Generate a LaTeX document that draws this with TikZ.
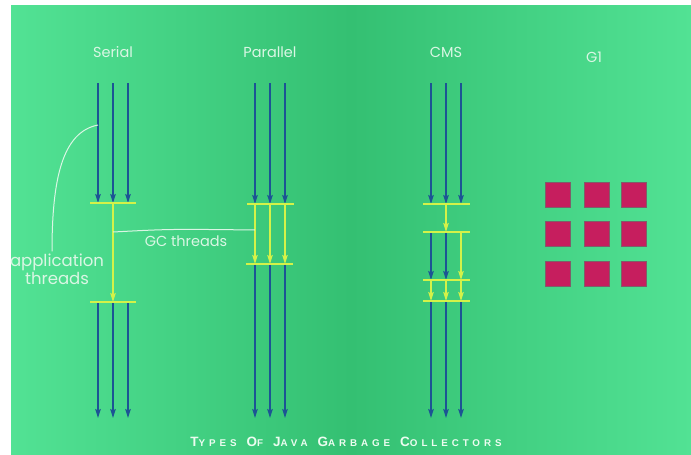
\documentclass[tikz,border=0pt]{standalone}
\usepackage{fontspec}
\setmainfont{Poppins}
\newfontfamily\titlefont[LetterSpace=40]{Liberation Sans}
\usetikzlibrary{arrows.meta}
\definecolor{gl}{RGB}{82,226,148}
\definecolor{gd}{RGB}{52,192,114}
\definecolor{threadblue}{RGB}{28,84,148}
\definecolor{gcyellow}{RGB}{212,242,72}
\definecolor{labelc}{RGB}{218,246,228}
\definecolor{captionc}{RGB}{236,252,240}
\definecolor{regionred}{RGB}{198,30,94}
\definecolor{regionedge}{RGB}{125,95,105}
\newcommand{\fsc}[2]{{\fontsize{13.5}{13.5}\selectfont #1}{\fontsize{9.8}{9.8}\selectfont #2}}
\begin{document}
\begin{tikzpicture}[x=1pt,y=-1pt,
  app/.style={draw=threadblue, line width=1.4pt, -{Stealth[length=9pt,width=5.5pt,inset=1.5pt]}},
  gcarrow/.style={draw=gcyellow, line width=1.2pt, -{Stealth[length=9pt,width=5.5pt,inset=1.5pt]}},
  bar/.style={draw=gcyellow, line width=1.2pt},
  lbl/.style={text=labelc, font=\fontsize{14.5}{18}\selectfont, inner sep=0pt},
  pointer/.style={draw=labelc, line width=1pt},
  region/.style={fill=regionred, draw=regionedge, line width=0.8pt, minimum size=25pt, inner sep=0pt}
]
\useasboundingbox (0,0) rectangle (691,455);
\fill[white] (0,0) rectangle (691,455);
\shade[left color=gl, right color=gl, middle color=gd] (11,5) rectangle (691,455);

% titles
\node[lbl] (serial) at (113,52) {Serial};
\node[lbl] (parallel) at (270,52) {Parallel};
\node[lbl] (cms) at (446,52) {CMS};
\node[lbl] (g1) at (594,57) {G1};

% Serial
\foreach \i/\x in {1/98,2/113,3/128} {
  \coordinate (s-top-\i) at (\x,83);
  \coordinate (s-b1-\i) at (\x,203);
  \coordinate (s-b2-\i) at (\x,302);
  \coordinate (s-end-\i) at (\x,418);
  \draw[app] (s-top-\i) -- (s-b1-\i);
  \draw[app] (s-b2-\i) -- (s-end-\i);
}
\coordinate (s-b1-l) at (90,203); \coordinate (s-b1-r) at (136,203);
\coordinate (s-b2-l) at (90,302); \coordinate (s-b2-r) at (136,302);
\draw[bar] (s-b1-l) -- (s-b1-r);
\draw[bar] (s-b2-l) -- (s-b2-r);
\draw[gcarrow] (s-b1-2) -- (s-b2-2);

% Parallel
\foreach \i/\x in {1/255,2/270,3/285} {
  \coordinate (p-top-\i) at (\x,83);
  \coordinate (p-b1-\i) at (\x,204);
  \coordinate (p-b2-\i) at (\x,264);
  \coordinate (p-end-\i) at (\x,418);
  \draw[app] (p-top-\i) -- (p-b1-\i);
  \draw[gcarrow] (p-b1-\i) -- (p-b2-\i);
  \draw[app] (p-b2-\i) -- (p-end-\i);
}
\coordinate (p-b1-l) at (247,204); \coordinate (p-b1-r) at (294,204);
\coordinate (p-b2-l) at (246,264); \coordinate (p-b2-r) at (293,264);
\draw[bar] (p-b1-l) -- (p-b1-r);
\draw[bar] (p-b2-l) -- (p-b2-r);

% CMS
\foreach \i/\x in {1/431,2/446,3/461} {
  \coordinate (c-top-\i) at (\x,83);
  \coordinate (c-b1-\i) at (\x,204);
  \coordinate (c-b2-\i) at (\x,232);
  \coordinate (c-b3-\i) at (\x,280);
  \coordinate (c-b4-\i) at (\x,301);
  \coordinate (c-end-\i) at (\x,418);
  \draw[app] (c-top-\i) -- (c-b1-\i);
  \draw[gcarrow] (c-b3-\i) -- (c-b4-\i);
  \draw[app] (c-b4-\i) -- (c-end-\i);
}
\draw[gcarrow] (c-b1-2) -- (c-b2-2);
\draw[app] (c-b2-1) -- (c-b3-1);
\draw[app] (c-b2-2) -- (c-b3-2);
\draw[gcarrow] (c-b2-3) -- (c-b3-3);
\foreach \b/\y in {1/204,2/232,3/280,4/301} {
  \coordinate (c-b\b-l) at (423,\y);
  \coordinate (c-b\b-r) at (470,\y);
  \draw[bar] (c-b\b-l) -- (c-b\b-r);
}

% G1 regions
\foreach \r/\y in {1/195,2/233.5,3/274} {
  \foreach \c/\x in {1/558,2/596.5,3/634} {
    \node[region] (g-\r-\c) at (\x,\y) {};
  }
}

% annotations
\node[lbl, align=center, font=\fontsize{16.5}{18}\selectfont] (appth) at (57,269) {application\\threads};
\coordinate (app-pt) at (98,125);
\draw[pointer] (app-pt) .. controls (62,132) and (52,180) .. ([xshift=-5pt,yshift=2pt]appth.north);

\node[lbl] (gcth) at (186,241) {GC threads};
\coordinate (gc-s) at (113,232);
\coordinate (gc-p) at (255,230);
\draw[pointer] (gc-s) .. controls (170,229) .. (gc-p);

% caption
\node[text=captionc, font=\titlefont\bfseries, inner sep=0pt] (caption) at (346,442)
  {\fsc{T}{YPES}\hspace{10pt}\fsc{O}{F}\hspace{10pt}\fsc{J}{AVA}\hspace{10pt}\fsc{G}{ARBAGE}\hspace{10pt}\fsc{C}{OLLECTORS}};
\end{tikzpicture}
\end{document}
